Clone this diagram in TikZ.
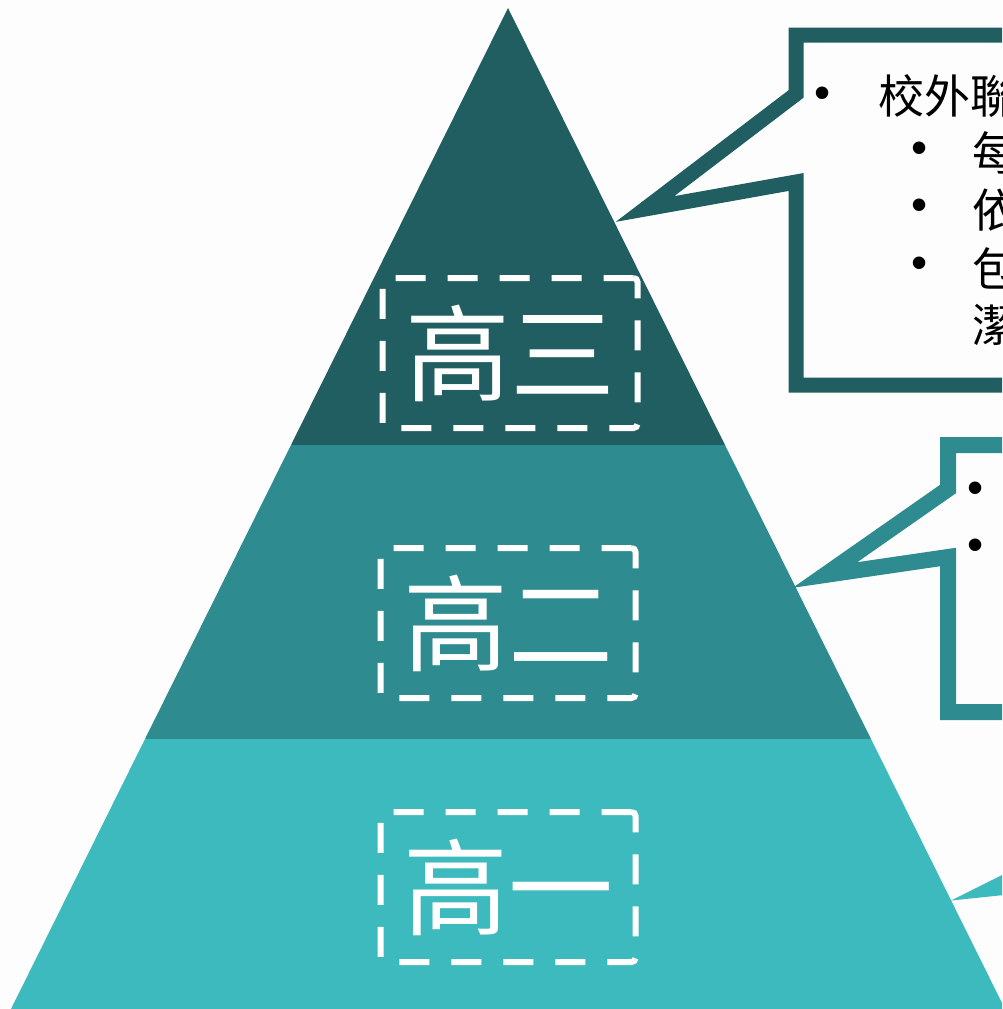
\documentclass[tikz,border=0pt]{standalone}
\usepackage{fontspec}
\setmainfont{Noto Sans CJK TC}
\newfontfamily\bulfont{Liberation Sans}
\usetikzlibrary{positioning}
\definecolor{bgc}{RGB}{253,253,253}
\definecolor{td}{RGB}{32,94,97}
\definecolor{tm}{RGB}{46,139,143}
\definecolor{tl}{RGB}{61,186,190}
\tikzset{
  lvl/.style={draw=white,line width=6pt,dash pattern=on 30pt off 22pt,
    rounded corners=4pt,minimum width=255pt,minimum height=150pt,
    inner sep=0pt,text=white,font=\fontsize{105}{105}\selectfont},
  call/.style={line width=16pt,miter limit=10,fill=bgc},
  bul/.style={inner sep=0pt,font=\bulfont\fontsize{46}{46}\selectfont},
  ln/.style={anchor=west,inner sep=0pt,font=\fontsize{46}{46}\selectfont},
}

\begin{document}
\begin{tikzpicture}[x=1pt,y=-1pt]
  \useasboundingbox (0,0) rectangle (1002,1009);
  \clip (0,0) rectangle (1002,1009);
  \fill[bgc] (0,0) rectangle (1002,1009);
  % pyramid
  \fill[td] (508,8) -- (725,445) -- (291,445) -- cycle;
  \fill[tm] (291,445) -- (725,445) -- (871,739) -- (145,739) -- cycle;
  \fill[tl] (145,739) -- (871,739) -- (1005,1009) -- (11,1009) -- cycle;
  % callouts
  \draw[call,draw=td,line width=15pt] (796,35) -- (796,94) -- (645,209) -- (796,182)
    -- (796,385) -- (1300,385) -- (1300,35) -- cycle;
  \draw[call,draw=tm] (948,445) -- (948,489) -- (825,575) -- (948,557)
    -- (948,712) -- (1300,712) -- (1300,445) -- cycle;
  \draw[call,draw=tl] (1100,760) -- (1100,835) -- (994,888) -- (1100,877)
    -- (1100,1000) -- (1300,1000) -- (1300,760) -- cycle;
  % levels
  \node[lvl] (g3) at (510,353) {高三};
  \node[lvl] (g2) at (508,623) {高二};
  \node[lvl] (g1) at (508,887) {高一};
  % top callout text
  \node[bul] (b1) at (823,98) {•};
  \node[ln] (t1) at (878,96) {校外聯};
  \node[bul] (b2) at (920,153) {•};
  \node[ln] (t2) at (972,153) {每};
  \node[bul] (b3) at (920,210) {•};
  \node[ln] (t3) at (972,210) {依};
  \node[bul] (b4) at (920,268) {•};
  \node[ln] (t4) at (972,268) {包};
  \node[ln] (t5) at (972,325) {潔};
  % middle callout text
  \node[bul] (b6) at (976,493) {•};
  \node[bul] (b7) at (976,550) {•};
\end{tikzpicture}
\end{document}
